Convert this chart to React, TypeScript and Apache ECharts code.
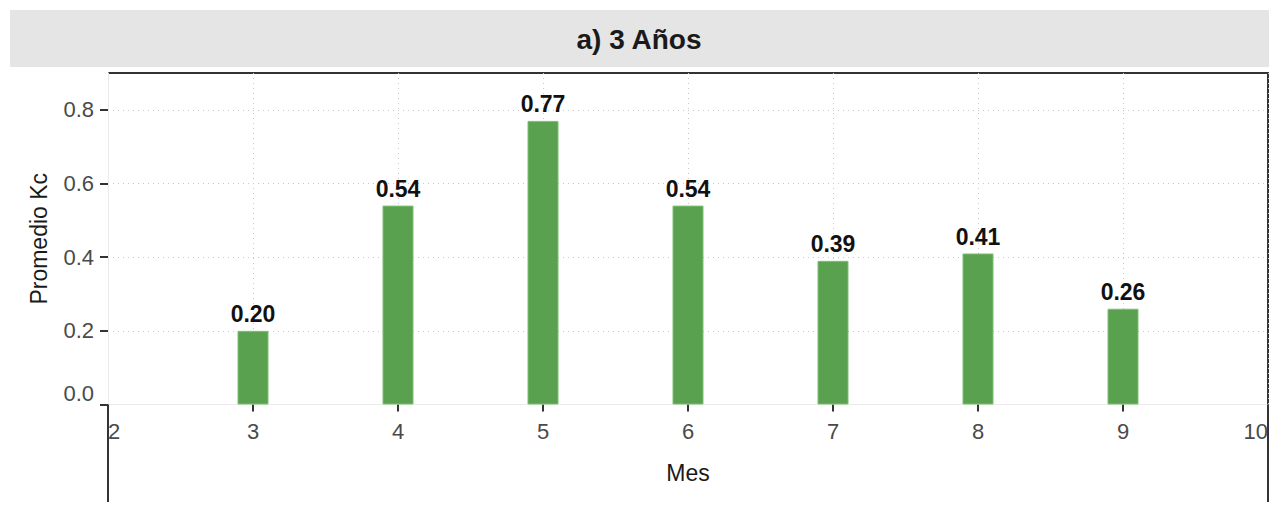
import React, { useEffect, useRef } from "react";
import * as echarts from "echarts";

// Monthly mean Kc for 3-year-old plants
const months: number[] = [3, 4, 5, 6, 7, 8, 9];
const meanKc: number[] = [0.2, 0.54, 0.77, 0.54, 0.39, 0.41, 0.26];
const yTicks: number[] = [0, 0.2, 0.4, 0.6, 0.8];
const panelTitle = "a) 3 Años";
const xTitle = "Mes";
const yTitle = "Promedio Kc";

const FONT = "Liberation Sans, Arial, Helvetica, sans-serif";

export default function App() {
  const ref = useRef<HTMLDivElement>(null);

  useEffect(() => {
    if (!ref.current) return;
    const chart = echarts.init(ref.current, null, { renderer: "svg" });

    const left = 108;
    const right = 1268;
    const top = 73;
    const plotBottom = 406;
    const outerBottom = 502;

    chart.setOption({
      animation: false,
      backgroundColor: "#ffffff",
      textStyle: { fontFamily: FONT },
      grid: { left: left, right: 1281 - right, top: top, bottom: 505 - 404.5, containLabel: false },
      xAxis: {
        type: "value",
        min: 2,
        max: 10,
        interval: 1,
        name: xTitle,
        nameLocation: "middle",
        nameGap: 57,
        nameTextStyle: { fontSize: 23, color: "#1a1a1a", fontFamily: FONT },
        axisLine: { show: true, lineStyle: { color: "#ebebeb", width: 1 } },
        axisTick: { show: true, length: 7, lineStyle: { color: "#333", width: 2 } },
        axisLabel: {
          fontSize: 22,
          color: "#4a4a4a",
          margin: 16,
          fontFamily: FONT,
          alignMinLabel: "left",
          alignMaxLabel: "right",
        },
        splitLine: { show: true, lineStyle: { color: "#c8c8c8", type: [1, 4], width: 1 } },
      },
      yAxis: {
        type: "value",
        min: 0,
        max: 0.9,
        interval: 0.2,
        name: yTitle,
        nameLocation: "middle",
        nameGap: 58,
        nameTextStyle: { fontSize: 23, color: "#1a1a1a", fontFamily: FONT },
        axisLine: { show: true, lineStyle: { color: "#ebebeb", width: 1 } },
        axisTick: {
          show: true,
          length: 8,
          customValues: yTicks,
          lineStyle: { color: "#333", width: 2 },
        },
        axisLabel: {
          fontSize: 22,
          color: "#4a4a4a",
          margin: 14,
          fontFamily: FONT,
          customValues: yTicks,
          verticalAlignMinLabel: "bottom",
          formatter: (v: number) => v.toFixed(1),
        },
        splitLine: { show: true, lineStyle: { color: "#c8c8c8", type: [1, 4], width: 1 } },
      },
      graphic: [
        {
          type: "rect",
          shape: { x: 10, y: 10, width: 1259, height: 57 },
          style: { fill: "#e5e5e5" },
          silent: true,
        },
        {
          type: "text",
          x: 639,
          y: 39,
          style: {
            text: panelTitle,
            fill: "#1a1a1a",
            font: `bold 28px ${FONT}`,
            align: "center",
            verticalAlign: "middle",
          },
          silent: true,
        },
        {
          type: "line",
          shape: { x1: left, y1: top, x2: right, y2: top },
          style: { stroke: "#333", lineWidth: 2 },
          silent: true,
        },
        {
          type: "line",
          shape: { x1: right, y1: top - 1, x2: right, y2: outerBottom },
          style: { stroke: "#333", lineWidth: 2 },
          silent: true,
        },
        {
          type: "line",
          shape: { x1: left, y1: plotBottom, x2: left, y2: outerBottom },
          style: { stroke: "#333", lineWidth: 2 },
          silent: true,
        },
      ],
      series: [
        {
          type: "bar",
          data: months.map((m, i) => [m, meanKc[i]]),
          barWidth: 31,
          itemStyle: { color: "#59a14f", borderColor: "#7dbf72", borderWidth: 1 },
          label: {
            show: true,
            position: "top",
            distance: 5,
            fontSize: 23,
            fontWeight: "bold",
            color: "#111",
            fontFamily: FONT,
            formatter: (p: any) => Number(p.value[1]).toFixed(2),
          },
        },
      ],
    });

    return () => chart.dispose();
  }, []);

  return (
    <div
      ref={ref}
      style={{ position: "fixed", left: 0, top: 0, width: 1281, height: 505 }}
    />
  );
}
